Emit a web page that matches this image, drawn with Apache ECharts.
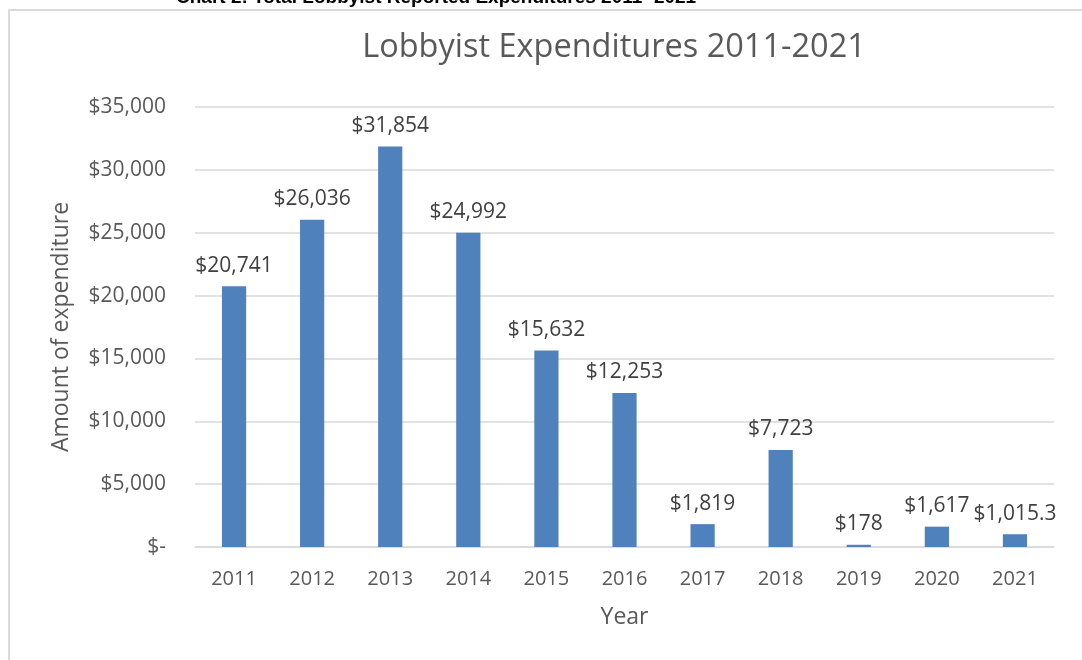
<!DOCTYPE html>
<html>
<head>
<meta charset="utf-8">
<script src="https://cdn.jsdelivr.net/npm/echarts@6/dist/echarts.min.js"></script>
<style>
  html, body { margin: 0; padding: 0; background: #fff; }
  #chart { width: 1082px; height: 660px; }
</style>
</head>
<body>
<div id="chart"></div>
<script>
// data
const years = ['2011', '2012', '2013', '2014', '2015', '2016', '2017', '2018', '2019', '2020', '2021'];
const expenditures = [20741, 26036, 31854, 24992, 15632, 12253, 1819, 7723, 178, 1617, 1015.3];

const FONT = '"Open Sans", sans-serif';

function money(v) {
  if (v === 0) return '$-';
  return '$' + v.toLocaleString('en-US', { maximumFractionDigits: 1 });
}

const chart = echarts.init(document.getElementById('chart'));

const option = {
  backgroundColor: '#fff',
  animation: false,
  title: {
    text: 'Lobbyist Expenditures 2011-2021',
    left: 609,
    textAlign: 'center',
    top: 26,
    textStyle: { fontFamily: FONT, fontSize: 32.5, fontWeight: 'normal', color: '#595959' }
  },
  graphic: [
    {
      type: 'rect',
      shape: { x: 9, y: 10, width: 1200, height: 700 },
      style: { fill: 'none', stroke: '#d0d0d0', lineWidth: 1.5 }
    },
    {
      type: 'text',
      left: 176,
      top: -12,
      style: {
        text: 'Chart 2: Total Lobbyist Reported Expenditures 2011- 2021',
        font: 'bold 19px "Liberation Sans", Arial, sans-serif',
        fill: '#000'
      }
    }
  ],
  grid: { left: 195, right: 28, top: 107, bottom: 113 },
  xAxis: {
    type: 'category',
    data: years,
    name: 'Year',
    nameLocation: 'middle',
    nameGap: 59,
    nameTextStyle: { fontFamily: FONT, fontSize: 23, color: '#595959' },
    axisLine: { lineStyle: { color: '#d9d9d9', width: 1.5 } },
    axisTick: { show: false },
    axisLabel: { margin: 22, fontFamily: FONT, fontSize: 20, color: '#595959' }
  },
  yAxis: {
    type: 'value',
    min: 0,
    max: 35000,
    interval: 5000,
    name: 'Amount of expenditure',
    nameLocation: 'middle',
    nameGap: 122,
    nameTextStyle: { fontFamily: FONT, fontSize: 23, color: '#595959' },
    axisLine: { show: false },
    axisTick: { show: false },
    axisLabel: { margin: 29, fontFamily: FONT, fontSize: 21, color: '#595959', formatter: money },
    splitLine: { lineStyle: { color: '#d9d9d9', width: 1.5 } }
  },
  series: [{
    type: 'bar',
    data: expenditures,
    barWidth: '31%',
    itemStyle: { color: '#4f81bd' },
    label: {
      show: true,
      position: 'top',
      distance: 10,
      fontFamily: FONT,
      fontSize: 21,
      color: '#404040',
      formatter: p => money(p.value)
    }
  }]
};

chart.setOption(option);
</script>
</body>
</html>
